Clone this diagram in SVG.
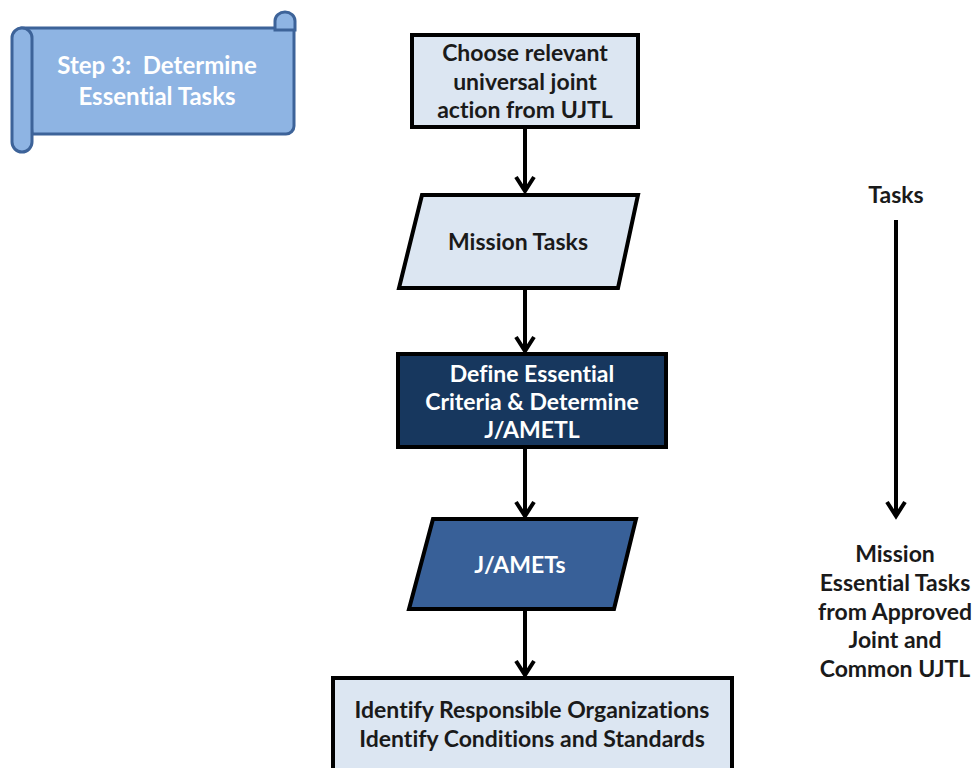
<svg xmlns="http://www.w3.org/2000/svg" width="973" height="768" viewBox="0 0 973 768">
<style>
.t{font-family:Lato,"Liberation Sans",sans-serif;font-weight:bold;font-size:23px;text-anchor:middle;font-variant-ligatures:none;white-space:pre}
.dk{fill:#1a1a1a}
.wt{fill:#ffffff}
.lb{fill:#dce6f2;stroke:#000;stroke-width:4}
.con{stroke:#000;stroke-width:4;fill:none}
.scr{fill:#8eb4e3;stroke:#3d6399;stroke-width:3}
</style>
<rect width="973" height="768" fill="#fff"/>
<g id="step3">
<path class="scr" d="M22 28 H294 V126 a8 8 0 0 1 -8 8 H32 V134 Z"/>
<path class="scr" d="M275 30 V21 a10 9 0 0 1 20 0 V30 Z"/>
<path class="scr" d="M12 38 a10 10 0 0 1 20 0 V142 a10 10 0 0 1 -20 0 Z"/>
<text class="t wt" x="157" y="74" style="font-size:24px" xml:space="preserve">Step 3:  Determine</text>
<text class="t wt" x="157" y="105" style="font-size:24px">Essential Tasks</text>
</g>
<g id="choose">
<rect class="lb" x="412" y="35" width="226" height="92"/>
<text class="t dk" x="525" y="61">Choose relevant</text>
<text class="t dk" x="525" y="90">universal joint</text>
<text class="t dk" x="525" y="118">action from UJTL</text>
</g>
<g id="mission">
<polygon class="lb" points="422,195 638,195 618,288 399,288"/>
<text class="t dk" x="518" y="250">Mission Tasks</text>
</g>
<g id="define">
<rect x="398" y="354" width="268" height="93" fill="#17375e" stroke="#000" stroke-width="4"/>
<text class="t wt" x="532" y="382">Define Essential</text>
<text class="t wt" x="532" y="410">Criteria &amp; Determine</text>
<text class="t wt" x="532" y="438">J/AMETL</text>
</g>
<g id="jamets">
<polygon points="433,519 636,519 614,609 409,609" fill="#386098" stroke="#000" stroke-width="4"/>
<text class="t wt" x="520" y="573">J/AMETs</text>
</g>
<g id="identify">
<rect class="lb" x="333" y="678" width="399" height="100"/>
<text class="t dk" x="532" y="718">Identify Responsible Organizations</text>
<text class="t dk" x="532" y="747">Identify Conditions and Standards</text>
</g>
<g id="tasks">
<text class="t dk" x="896" y="203">Tasks</text>
</g>
<g id="met">
<text class="t dk" x="895" y="562">Mission</text>
<text class="t dk" x="895" y="591">Essential Tasks</text>
<text class="t dk" x="895" y="620">from Approved</text>
<text class="t dk" x="895" y="648">Joint and</text>
<text class="t dk" x="895" y="677">Common UJTL</text>
</g>
<g id="connectors">
<path class="con" d="M525 128 V191 M516 177 L525 191 L534 177"/>
<path class="con" d="M525 289 V351 M516 337 L525 351 L534 337"/>
<path class="con" d="M525 448 V516 M516 502 L525 516 L534 502"/>
<path class="con" d="M525 610 V675 M516 661 L525 675 L534 661"/>
<path class="con" d="M896 220 V516 M887 502 L896 516 L905 502"/>
</g>
</svg>
